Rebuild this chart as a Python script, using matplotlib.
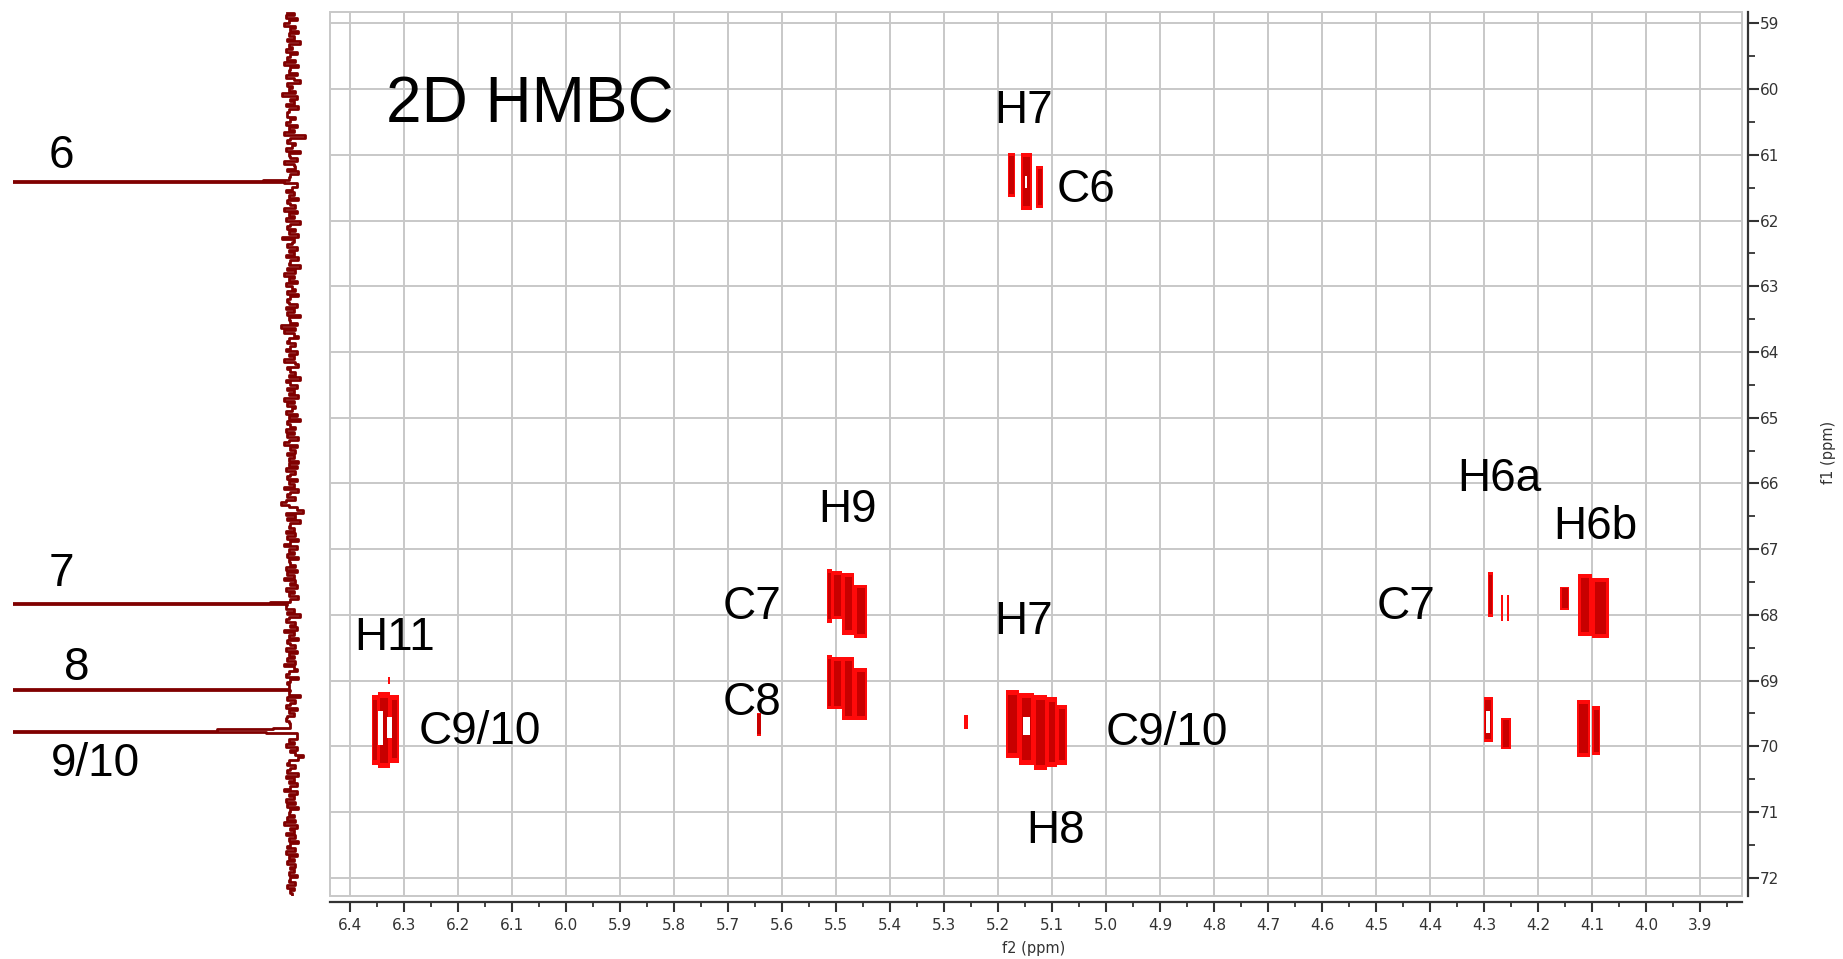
import numpy as np
import matplotlib
matplotlib.use('Agg')
import matplotlib.pyplot as plt
from matplotlib.patches import Rectangle
from matplotlib.ticker import MultipleLocator, FormatStrFormatter

# spectral window (ppm)
f2_left, f2_right = 6.437, 3.822
f1_top, f1_bottom = 58.825, 72.28

# 13C projection along f1: baseline noise (evenly spaced) plus the peak points
proj_noise = [
    3, -1, 4, -3, 2, 5, -2, 1, -4, 2,
    -1, 3, -5, 2, 0, 4, -3, 1, 3, -2,
    5, -4, 1, 2, -3, 4, -1, -5, 3, 0,
    2, -2, 6, -3, 1, -1, 4, -4, 2, 3,
    3, -2, 1, 4, -3, 2, -1, 5, -8, 1,
    3, -2, 0, 4, -5, 2, 1, -3, 5, -1,
    -2, 3, -4, 1, 6, -2, 2, -3, 0, 4,
    -1, 2, -4, 3, 1, -2, 5, -3, 2, -1,
    4, -5, 1, 3, -2, 2, -4, 6, -1, 0,
    3, -3, 2, -1, 4, -4, 1, 2, -5, 3,
    -2, 5, -1, 2, -3, 4, 0, -2, 3, -4,
    1, 3, 2, -3, 4, -1, 3, -5, 2, 1,
    -3, 7, -2, 5, -1, -4, 2, 3, -2, 1,
    4, -3, 2, -1, 5, -2, -4, 3, 1, -2,
    2, -5, 4, 1, -3, 3, -1, 2, -4, 5,
    -1, 3, -2, 0, 4, -3, 2, -5, 3, 1,
    -2, 4, -1, 3, -4, 2, 5, -3, 1, -2,
    3, -1, 2, -4, 2, -3, 4, -2, 1, 3,
    -3, 2, -1, 5, -4, 1, 3, -2, 4, 7,
    2, -3, -7, 4, -2, 3, -5, 1, 2, -1,
    4, -2, 3, -4, 1, 5, -3, 2, -1, 3,
    -4, 2, 1, -2, 4, -3, 3, -1, 5, -2,
    1, -3, 4, -1, 2, -4, 3, 0, -2, 4,
    -1, 3, -5, 2, 4, -2, 1, -3, 5, -1,
    2, -4, 3, 1, -2, 4, -3, 2, -1, 3,
    -2, 5, -1, -3, 2, 4, -4, 1, 3, -2,
    4, -1, 2, -5, 3, -2, 1, 4, -3, 2,
    -1, 3, 4, 2, -4, 5, -2, 1, 3, -3,
    2, -1, 4, -3, 1, -2, -7, -4, 2, 3,
    -2, 1, 3, -4, 4, -1, 2, -3, 1, 5,
    -3, 2, -1, 4, -2, 3, -4, 1, 2, -1,
    3, -2, 5, -3, 1, -1, 4, -2, 2, -4,
    1, 3, -2, 4, -3, 2, -1, 3, -2, 1,
    -1, 2, -3, 1, 2, -2, 3, -1, 1, 0,
]
proj_peak_ppm = [61.385, 61.399, 61.415, 61.428,
                 67.81, 67.822, 67.838, 67.85,
                 69.132, 69.14, 69.15, 69.162,
                 69.725, 69.745, 69.765, 69.79, 69.805]
proj_peak_int = [2, 18, 400, 5,
                 1, 14, 400, 3,
                 2, 400, 44, 1,
                 1, 12, 47, 400, 16]
proj_labels = ['6', '7', '8', '9/10']

# HMBC cross peaks: contour boxes (f2 from, f2 to, f1 from, f1 to)
h7_c6 = [(5.181, 5.168, 60.97, 61.64), (5.157, 5.137, 60.97, 61.84),
         (5.129, 5.116, 61.17, 61.81)]
h9_c7 = [(5.516, 5.507, 67.31, 68.12), (5.507, 5.488, 67.34, 68.07),
         (5.488, 5.466, 67.36, 68.30), (5.466, 5.442, 67.54, 68.35)]
h9_c8 = [(5.516, 5.507, 68.61, 69.44), (5.507, 5.488, 68.64, 69.44),
         (5.488, 5.466, 68.64, 69.60), (5.466, 5.442, 68.81, 69.60),
         (5.647, 5.638, 69.49, 69.84)]
h11_c910 = [(6.360, 6.348, 69.22, 70.28), (6.348, 6.326, 69.18, 70.33),
            (6.326, 6.309, 69.22, 70.25), (6.330, 6.325, 68.94, 69.05)]
h78_c910 = [(5.185, 5.161, 69.15, 70.18), (5.161, 5.133, 69.19, 70.28),
            (5.133, 5.109, 69.22, 70.36), (5.109, 5.090, 69.25, 70.31),
            (5.090, 5.072, 69.37, 70.28), (5.262, 5.255, 69.52, 69.74)]
h6_c7 = [(4.2925, 4.283, 67.35, 68.03), (4.268, 4.264, 67.70, 68.10),
         (4.258, 4.254, 67.70, 68.10), (4.159, 4.142, 67.57, 67.92),
         (4.125, 4.100, 67.38, 68.33), (4.100, 4.069, 67.44, 68.35)]
h6_c910 = [(4.300, 4.284, 69.25, 69.94), (4.268, 4.250, 69.57, 70.05),
           (4.128, 4.103, 69.29, 70.16), (4.099, 4.085, 69.39, 70.14)]
# gaps inside the contours
holes = [(6.349, 6.338, 69.47, 69.98), (6.332, 6.323, 69.55, 69.87),
         (5.153, 5.141, 69.55, 69.83), (4.296, 4.289, 69.47, 69.80),
         (5.149, 5.146, 61.32, 61.50)]

labels2d = [('H7', 5.153, 60.51), ('C6', 5.037, 61.72),
            ('H9', 5.479, 66.58), ('C7', 5.656, 68.06), ('C8', 5.656, 69.52),
            ('H11', 6.317, 68.53), ('C9/10', 6.159, 69.96),
            ('H7', 5.153, 68.29), ('C9/10', 4.887, 69.98), ('H8', 5.094, 71.47),
            ('H6a', 4.271, 66.11), ('H6b', 4.093, 66.84), ('C7', 4.445, 68.06)]

W, H = 1843, 959
fig = plt.figure(figsize=(W / 100, H / 100), dpi=100)
fig.patch.set_facecolor('white')

# main 2D panel
ax = fig.add_axes([330 / W, 63 / H, 1412 / W, 884 / H])
ax.set_xlim(f2_left, f2_right)
ax.set_ylim(f1_bottom, f1_top)
ax.set_axisbelow(True)

ax.xaxis.set_major_locator(MultipleLocator(0.1))
ax.xaxis.set_minor_locator(MultipleLocator(0.05))
ax.xaxis.set_major_formatter(FormatStrFormatter('%.1f'))
ax.yaxis.set_major_locator(MultipleLocator(1))
ax.yaxis.set_minor_locator(MultipleLocator(0.5))
ax.yaxis.set_major_formatter(FormatStrFormatter('%d'))
ax.grid(which='major', color='#c8c8c8', lw=1.4)

ax.yaxis.tick_right()
for side in ['left', 'top']:
    ax.spines[side].set_visible(False)
for side in ['bottom', 'right']:
    ax.spines[side].set_position(('outward', 4))
    ax.spines[side].set_color('#333333')
    ax.spines[side].set_linewidth(1.6)
ax.add_patch(Rectangle((0, 0), 1, 1, transform=ax.transAxes, fill=False,
                       ec='#c8c8c8', lw=1.4, clip_on=False, zorder=1))

ax.tick_params(axis='x', which='major', length=7, width=1.5, pad=5,
               labelsize=11, colors='#333333')
ax.tick_params(axis='x', which='minor', length=3.5, width=1.3, colors='#333333')
ax.tick_params(axis='y', which='major', length=8, width=1.5, pad=1,
               labelsize=11, colors='#333333')
ax.tick_params(axis='y', which='minor', length=5, width=1.3, colors='#333333')


def draw_peak(boxes):
    for x0, x1, y0, y1 in boxes:
        w = abs(x1 - x0)
        h = abs(y1 - y0)
        xl = min(x0, x1)
        yl = min(y0, y1)
        ax.add_patch(Rectangle((xl, yl), w, h, fc='#ff0a0a', ec='none', zorder=3))
        if w > 0.009:
            ax.add_patch(Rectangle((xl + 0.18 * w, yl + 0.07 * h), 0.64 * w, 0.86 * h,
                                   fc='#c80000', ec='none', zorder=4))


for peak in [h7_c6, h9_c7, h9_c8, h11_c910, h78_c910, h6_c7, h6_c910]:
    draw_peak(peak)
for x0, x1, y0, y1 in holes:
    ax.add_patch(Rectangle((min(x0, x1), min(y0, y1)), abs(x1 - x0), abs(y1 - y0),
                           fc='white', ec='none', zorder=5))

for txt, xx, yy in labels2d:
    ax.text(xx, yy, txt, ha='center', va='baseline', fontsize=33,
            family='Liberation Sans', color='black', zorder=6)
ax.text(6.333, 60.50, '2D HMBC', ha='left', va='baseline', fontsize=46,
        family='Liberation Sans', color='black', zorder=6)

fig.text(1034 / W, 1 - 948 / H, 'f2 (ppm)', ha='center', va='center',
         fontsize=10.5, color='#333333')
fig.text(1828 / W, 1 - 452 / H, 'f1 (ppm)', ha='center', va='center',
         rotation=90, fontsize=10.5, color='#333333')

# 1D 13C projection on the left, sharing the f1 scale
ax1 = fig.add_axes([13 / W, 63 / H, 307 / W, 884 / H])
ax1.set_ylim(f1_bottom, f1_top)
ax1.set_xlim(174, -17.5)
ax1.axis('off')

grid = np.linspace(f1_top + 0.01, f1_bottom - 0.01, len(proj_noise))
pk = np.array(proj_peak_ppm)
keep = np.min(np.abs(grid[:, None] - pk[None, :]), axis=1) > 0.05
ppm = np.concatenate([grid[keep], pk])
inten = np.concatenate([np.array(proj_noise)[keep], np.array(proj_peak_int)])
order = np.argsort(ppm)
ax1.plot(inten[order], ppm[order], drawstyle='steps-post', color='#800000', lw=2.0)

for txt, xx, yy in zip(proj_labels, [144, 144, 134, 122.5], [61.20, 67.56, 68.99, 70.46]):
    ax1.text(xx, yy, txt, ha='center', va='baseline', fontsize=33,
             family='Liberation Sans', color='black')

fig.savefig('out.png', dpi=100)
